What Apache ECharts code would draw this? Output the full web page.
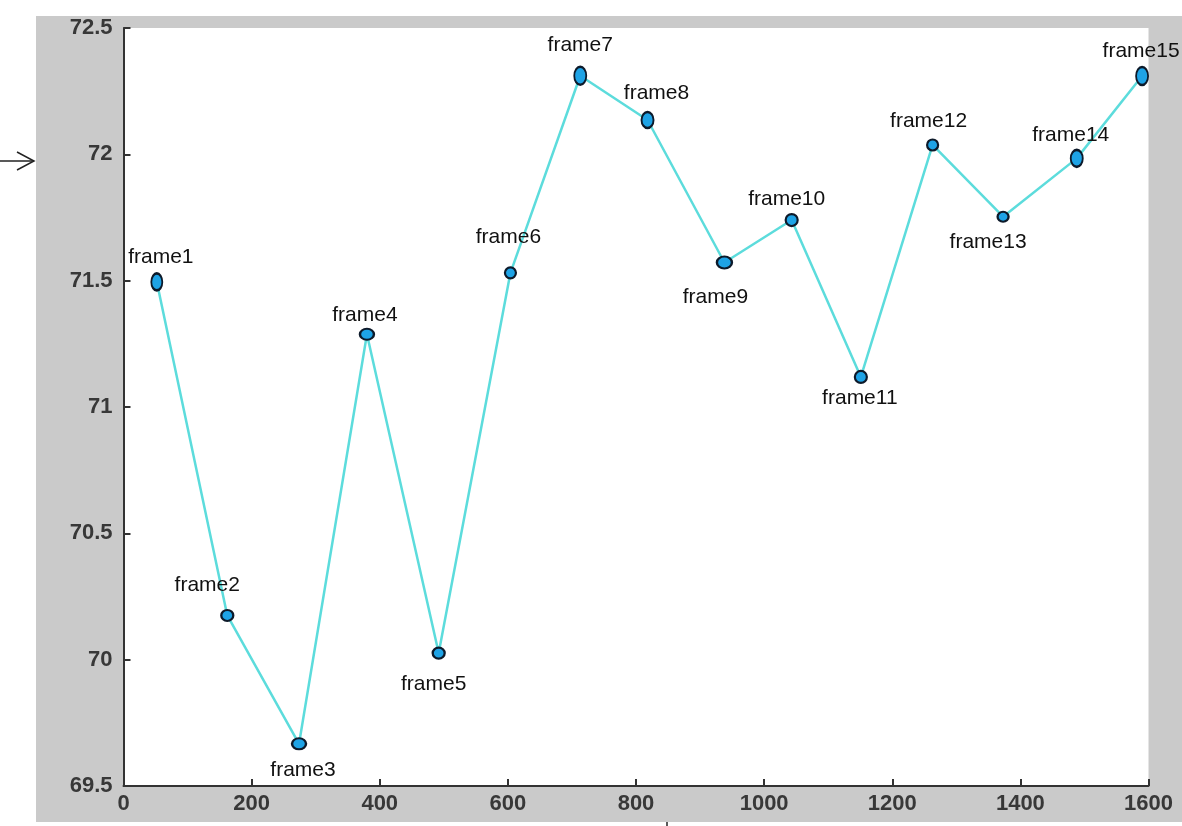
<!DOCTYPE html>
<html>
<head>
<meta charset="utf-8">
<script src="https://cdn.jsdelivr.net/npm/echarts@6/dist/echarts.min.js"></script>
<style>html,body{margin:0;padding:0;background:#fff;}#c{width:1182px;height:826px;}</style>
</head>
<body>
<div id="c"></div>
<script>
// ---- data ----
const frameNames = ['frame1','frame2','frame3','frame4','frame5','frame6','frame7','frame8','frame9','frame10','frame11','frame12','frame13','frame14','frame15'];
const frameX = [52, 162, 274, 380, 492, 604, 713, 818, 938, 1043, 1151, 1263, 1373, 1488, 1590];
const frameY = [71.495, 70.175, 69.667, 71.288, 70.026, 71.531, 72.311, 72.136, 71.572, 71.74, 71.119, 72.037, 71.753, 71.984, 72.31];
const xTicks = [0, 200, 400, 600, 800, 1000, 1200, 1400, 1600];
const yTicks = [69.5, 70, 70.5, 71, 71.5, 72, 72.5];

// ---- styling (not data) ----
const markerSize = [[11,17],[12,11],[14,11],[14,11],[12,11],[11,11],[12,18],[12,16],[15,12],[12,12],[12,12],[11,11],[11,10],[12,17],[12,18]];
const labelOffset = [[4,-25],[-20,-30],[4,26],[-2,-19],[-5,31],[-2,-36],[0,-31],[9,-27],[-9,35],[-5,-21],[-1,21],[-4,-24],[-15,25],[-6,-23],[-1,-25]];

const chart = echarts.init(document.getElementById('c'), null, {renderer: 'canvas'});

const seriesData = frameX.map((x, i) => ({
  value: [x, frameY[i]],
  name: frameNames[i],
  symbolSize: markerSize[i],
  label: {
    show: true,
    position: 'inside',
    offset: labelOffset[i],
    formatter: frameNames[i]
  }
}));

const axisFont = { color: '#383838', fontSize: 22, fontWeight: 'bold', fontFamily: 'Liberation Sans, Arial, sans-serif' };

const option = {
  animation: false,
  backgroundColor: '#ffffff',
  graphic: [
    { type: 'rect', z: -10, shape: { x: 36, y: 16, width: 1146, height: 806 }, style: { fill: '#cacaca' } },
    { type: 'line', shape: { x1: 0, y1: 161, x2: 34, y2: 161 }, style: { stroke: '#222', lineWidth: 1.5 } },
    { type: 'polyline', shape: { points: [[17,152],[34,161],[17,170]] }, style: { stroke: '#222', lineWidth: 1.5, fill: null } },
    { type: 'line', shape: { x1: 667, y1: 822, x2: 667, y2: 826 }, style: { stroke: '#222', lineWidth: 1.5 } }
  ],
  grid: {
    left: 123.5, top: 28, right: 33.5, bottom: 40,
    show: true, backgroundColor: '#ffffff', borderWidth: 0
  },
  xAxis: {
    type: 'value', min: 0, max: 1600, interval: 200,
    axisLine: { show: true, onZero: false, lineStyle: { color: '#333', width: 2 } },
    axisTick: { show: true, inside: true, length: 7, lineStyle: { color: '#333', width: 2 } },
    axisLabel: Object.assign({ margin: 7, formatter: v => xTicks.includes(v) ? String(v) : '' }, axisFont),
    splitLine: { show: false }
  },
  yAxis: {
    type: 'value', min: 69.5, max: 72.5, interval: 0.5,
    axisLine: { show: true, onZero: false, lineStyle: { color: '#333', width: 2 } },
    axisTick: { show: true, inside: true, length: 7, lineStyle: { color: '#333', width: 2 } },
    axisLabel: Object.assign({ margin: 11, formatter: v => { const t = yTicks.find(y => Math.abs(y - v) < 1e-6); return t === undefined ? '' : String(t); } }, axisFont),
    splitLine: { show: false }
  },
  series: [{
    type: 'line',
    data: seriesData,
    symbol: 'circle',
    lineStyle: { color: '#5cdcdc', width: 2.5 },
    itemStyle: { color: '#1ea3e6', borderColor: '#0d1a2a', borderWidth: 2.2 },
    label: { color: '#111', fontSize: 21, fontFamily: 'Liberation Sans, Arial, sans-serif' },
    emphasis: { disabled: true },
    clip: false,
    z: 5
  }]
};
chart.setOption(option);
</script>
</body>
</html>
